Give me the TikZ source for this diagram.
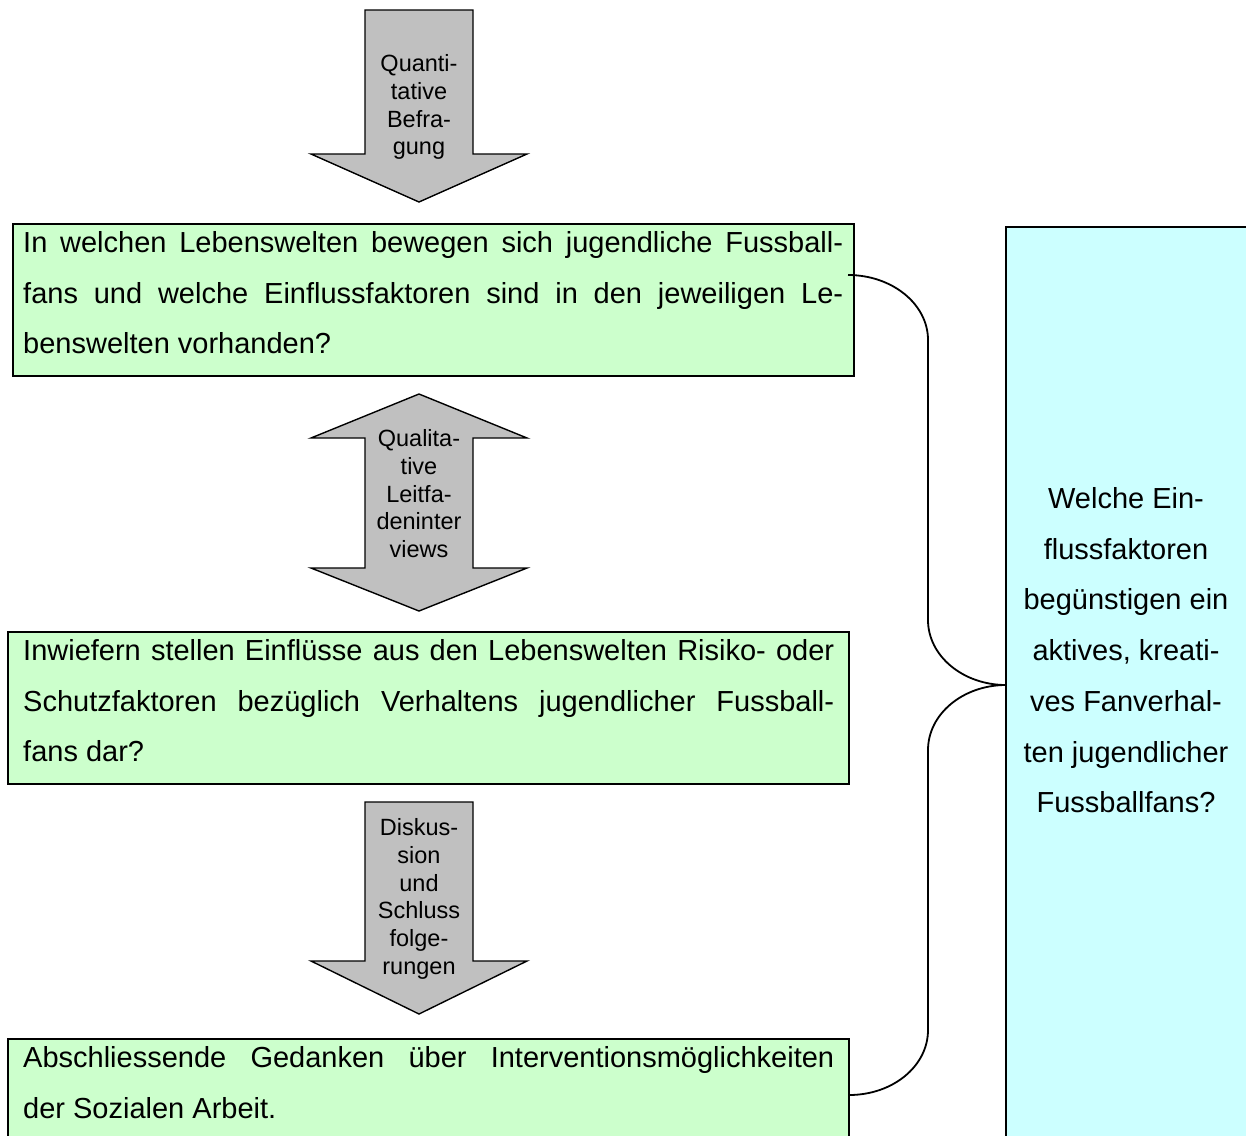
\documentclass[tikz,border=0pt]{standalone}
\usepackage{fontspec}
\setmainfont{Liberation Sans}[Ligatures=CommonOff]
\usetikzlibrary{calc}
\definecolor{boxgreen}{HTML}{CCFFCC}
\definecolor{boxcyan}{HTML}{CCFFFF}
\definecolor{arrowgray}{HTML}{C0C0C0}
\tikzset{
  qbox/.style={draw=black, line width=2pt, fill=boxgreen, rectangle, inner sep=0pt, outer sep=0pt, anchor=north west},
  goalbox/.style={draw=black, line width=2pt, fill=boxcyan, rectangle, inner sep=0pt, outer sep=0pt, anchor=north west},
  grayarrow/.style={draw=black, line width=1.4pt, fill=arrowgray, line join=miter},
  arrowlabel/.style={inner sep=0pt, anchor=base, font=\fontsize{23.5}{27.75}\selectfont},
  boxtext/.style={inner sep=0pt, anchor=base west, font=\fontsize{29}{50.5}\selectfont},
  goaltext/.style={inner sep=0pt, anchor=base, font=\fontsize{29}{50.7}\selectfont},
  brace/.style={draw=black, line width=1.8pt},
}
\begin{document}
\begin{tikzpicture}[x=1pt, y=-1pt]
\useasboundingbox (0,0) rectangle (1246,1135);
\clip (0,0) rectangle (1246,1135);

% question boxes
\node[qbox, minimum width=841pt, minimum height=152pt] (b1) at (13,224) {};
\node[qbox, minimum width=841pt, minimum height=152pt] (b2) at (8,632) {};
\node[qbox, minimum width=841pt, minimum height=110pt] (b3) at (8,1039) {};
\node[goalbox, minimum width=246pt, minimum height=920pt] (rb) at (1006,227) {};

\node[boxtext] (t1) at (23,252.5) {\parbox[t]{820pt}{\tolerance=9999
In welchen Lebenswelten bewegen sich jugendliche Fussball-\linebreak fans und welche Einflussfaktoren sind in den jeweiligen Le-\linebreak benswelten vorhanden?}};
\node[boxtext] (t2) at (23,660.5) {\parbox[t]{811pt}{\tolerance=9999
Inwiefern stellen Einflüsse aus den Lebenswelten Risiko- oder\linebreak Schutzfaktoren bezüglich Verhaltens jugendlicher Fussball-\linebreak fans dar?}};
\node[boxtext] (t3) at (23,1067.5) {\parbox[t]{811pt}{\tolerance=9999
Abschliessende Gedanken über Interventionsmöglichkeiten\linebreak der Sozialen Arbeit.}};

\node[goaltext] (tg) at (1126,508.5) {\parbox[t]{236pt}{\centering
Welche Ein-\\flussfaktoren\\begünstigen ein\\aktives, kreati-\\ves Fanverhal-\\ten jugendlicher\\Fussballfans?}};

% block arrows
\draw[grayarrow] (365,10) -- (473,10) -- (473,154) -- (527,154) -- (419,202) -- (311,154) -- (365,154) -- cycle;
\node[arrowlabel] (a1) at (419,71.5) {\parbox[t]{110pt}{\centering Quanti-\\tative\\Befra-\\gung}};

\draw[grayarrow] (419,394) -- (527,438) -- (473,438) -- (473,568) -- (527,568) -- (419,611) -- (311,568) -- (365,568) -- (365,438) -- (311,438) -- cycle;
\node[arrowlabel] (a2) at (419,446.5) {\parbox[t]{110pt}{\centering Qualita-\\tive\\Leitfa-\\deninter\\views}};

\draw[grayarrow] (365,802) -- (473,802) -- (473,961) -- (527,961) -- (419,1014) -- (311,961) -- (365,961) -- cycle;
\node[arrowlabel] (a3) at (419,835.5) {\parbox[t]{110pt}{\centering Diskus-\\sion\\und\\Schluss\\folge-\\rungen}};

% brace connector
\coordinate (s1) at ($(b1.north east)+(-6,51)$);
\coordinate (tip) at ($(rb.north west)+(0,458)$);
\coordinate (s3) at ($(b3.north east)+(0,56)$);
\draw[brace] (s1) .. controls ($(s1)+(44,0)$) and ($(s1)+(80,29)$) .. ($(s1)+(80,65)$)
  -- (928,620) .. controls (928,656) and ($(tip)+(-43,0)$) .. (tip);
\draw[brace] (tip) .. controls ($(tip)+(-43,0)$) and (928,714) .. (928,750)
  -- ($(s3)+(79,-65)$) .. controls ($(s3)+(79,-29)$) and ($(s3)+(44,0)$) .. (s3);
\end{tikzpicture}
\end{document}
